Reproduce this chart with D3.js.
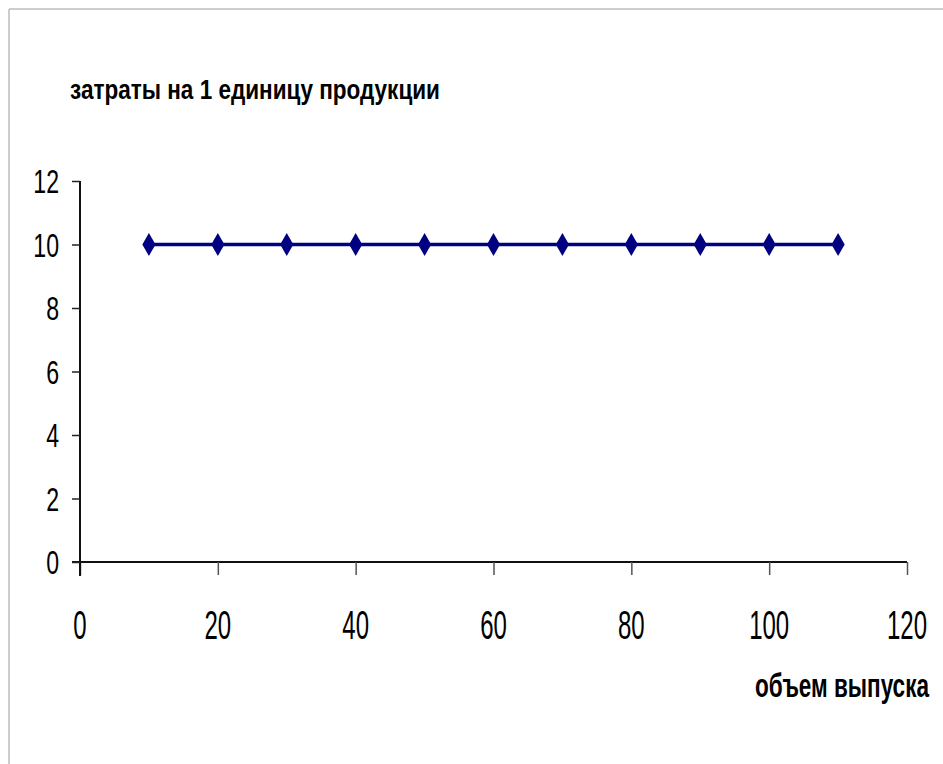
<!DOCTYPE html>
<html>
<head>
<meta charset="utf-8">
<script src="https://cdn.jsdelivr.net/npm/d3@7"></script>
<style>
  html, body { margin: 0; padding: 0; background: #fff; }
  svg { display: block; }
</style>
</head>
<body>
<svg id="chart" width="943" height="764"></svg>
<script>
// Output volume (x) and cost per unit (y)
const volume = [10, 20, 30, 40, 50, 60, 70, 80, 90, 100, 110];
const unitCost = [10, 10, 10, 10, 10, 10, 10, 10, 10, 10, 10];
const xTicks = [0, 20, 40, 60, 80, 100, 120];
const yTicks = [0, 2, 4, 6, 8, 10, 12];
const titleText = "затраты на 1 единицу продукции";
const xLabelText = "объем выпуска";

const svg = d3.select("#chart");
const W = 943, H = 764;

// Frame lines along the top and left edges
svg.append("line").attr("x1", 9).attr("y1", 9).attr("x2", W).attr("y2", 9)
  .attr("stroke", "#bdbdbd").attr("stroke-width", 1.5);
svg.append("line").attr("x1", 9).attr("y1", 9).attr("x2", 9).attr("y2", H)
  .attr("stroke", "#bdbdbd").attr("stroke-width", 1.5);

const x = d3.scaleLinear().domain([0, 120]).range([80, 907]);
const y = d3.scaleLinear().domain([0, 12]).range([562, 181]);

const font = "'Liberation Sans', Arial, sans-serif";

// X axis
const xAxis = svg.append("g").attr("transform", `translate(0,${y(0)})`)
  .call(d3.axisBottom(x).tickValues(xTicks).tickSize(13).tickSizeOuter(0).tickFormat(() => ""));
xAxis.select(".domain").attr("stroke", "#111").attr("stroke-width", 2)
  .attr("d", `M${x(0) - 8},0H${x(120)}`);
xAxis.selectAll(".tick line").attr("stroke", "#555").attr("stroke-width", 1.5);

// Y axis
const yAxis = svg.append("g").attr("transform", `translate(${x(0)},0)`)
  .call(d3.axisLeft(y).tickValues(yTicks).tickSize(8).tickSizeOuter(0).tickFormat(() => ""));
yAxis.select(".domain").attr("stroke", "#111").attr("stroke-width", 2)
  .attr("d", `M0,${y(12)}V${y(0) + 14}`);
yAxis.selectAll(".tick line").attr("stroke", "#222").attr("stroke-width", 1.5);

// Condensed tick labels
svg.append("g").selectAll("text").data(xTicks).join("text")
  .attr("transform", d => `translate(${x(d)},639) scale(0.6,1)`)
  .attr("text-anchor", "middle")
  .attr("font-family", font).attr("font-size", 40).attr("fill", "#000")
  .text(d => d);

svg.append("g").selectAll("text").data(yTicks).join("text")
  .attr("transform", d => `translate(59,${y(d) + 12}) scale(0.68,1)`)
  .attr("text-anchor", "end")
  .attr("font-family", font).attr("font-size", 34).attr("fill", "#000")
  .text(d => d);

// Series line and diamond markers
const pts = volume.map((v, i) => [v, unitCost[i]]);
svg.append("path").datum(pts)
  .attr("fill", "none").attr("stroke", "#000080").attr("stroke-width", 3.5)
  .attr("d", d3.line().x(d => x(d[0])).y(d => y(d[1])));

const diamond = d3.symbol(d3.symbolDiamond, 150)();
svg.append("g").selectAll("path").data(pts).join("path")
  .attr("transform", d => `translate(${x(d[0])},${y(d[1])})`)
  .attr("d", diamond).attr("fill", "#000080");

// Condensed bold caption squeezed horizontally to a given width
function condensedLabel(text, left, baseline, size, width) {
  const t = svg.append("text")
    .attr("font-family", font).attr("font-weight", "bold").attr("font-size", size)
    .attr("fill", "#000").text(text);
  const natural = t.node().getComputedTextLength();
  t.attr("transform", `translate(${left},${baseline}) scale(${width / natural},1)`);
  return t;
}

condensedLabel(titleText, 70, 99, 27, 370);
condensedLabel(xLabelText, 755, 697, 33, 174);
</script>
</body>
</html>
